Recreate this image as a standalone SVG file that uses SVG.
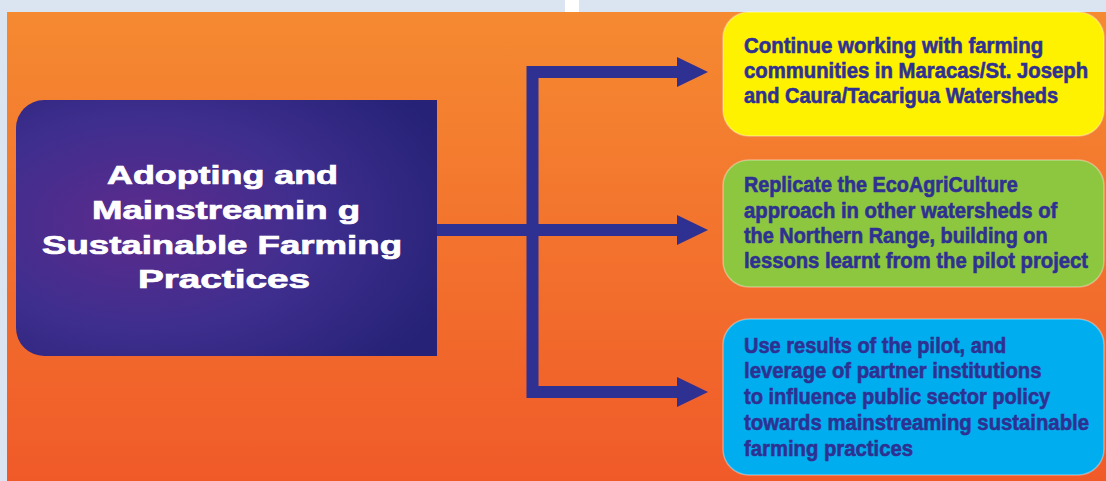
<svg xmlns="http://www.w3.org/2000/svg" width="1106" height="481" viewBox="0 0 1106 481">
<defs>
<linearGradient id="bg" x1="0" y1="0" x2="0" y2="1">
<stop offset="0" stop-color="#f58a31"/>
<stop offset="1" stop-color="#f05a29"/>
</linearGradient>
<radialGradient id="hub" cx="0.3" cy="0.48" r="0.8">
<stop offset="0" stop-color="#5d2b8d"/>
<stop offset="0.5" stop-color="#3f2e8e"/>
<stop offset="1" stop-color="#252277"/>
</radialGradient>
<marker id="ah" markerUnits="userSpaceOnUse" viewBox="0 0 31 30" markerWidth="31" markerHeight="30" refX="0" refY="15" orient="auto">
<path d="M0,0 L31,15 L0,30 Z" fill="#2e3192"/>
</marker>
<style>
.hubtext{font-family:"Liberation Sans",Arial,sans-serif;font-weight:bold;font-size:25px;fill:#ffffff;stroke:#ffffff;stroke-width:0.7}
.boxtext{font-family:"Liberation Sans",Arial,sans-serif;font-weight:bold;font-size:22.5px;fill:#2e3192;stroke:#2e3192;stroke-width:0.6}
.conn{fill:none;stroke:#2e3192;stroke-width:12;stroke-linejoin:miter;stroke-linecap:butt}
.box{stroke:#ffffff;stroke-opacity:0.35;stroke-width:1.5}
</style>
</defs>
<rect x="0" y="0" width="1106" height="481" fill="#dbe5f1"/>
<rect x="565" y="0" width="14" height="12" fill="#ffffff"/>
<rect x="7" y="12" width="1099" height="469" fill="url(#bg)"/>

<g id="connectors">
<path class="conn" d="M532.5,230 V72 H677" marker-end="url(#ah)"/>
<path class="conn" d="M532.5,230 V392 H677" marker-end="url(#ah)"/>
<path class="conn" d="M436,230 H677" marker-end="url(#ah)"/>
</g>

<g id="hub">
<path d="M44,100 H437 V356 H44 A28,28 0 0 1 16,328 V128 A28,28 0 0 1 44,100 Z" fill="url(#hub)"/>
<text class="hubtext" x="107" y="184" textLength="231" lengthAdjust="spacingAndGlyphs">Adopting and</text>
<text class="hubtext" x="92" y="219" textLength="268" lengthAdjust="spacingAndGlyphs">Mainstreamin g</text>
<text class="hubtext" x="42" y="254" textLength="360" lengthAdjust="spacingAndGlyphs">Sustainable Farming</text>
<text class="hubtext" x="138" y="288" textLength="172" lengthAdjust="spacingAndGlyphs">Practices</text>
</g>

<g id="node-continue">
<rect class="box" x="723" y="12" width="381" height="124" rx="26" ry="26" fill="#fff200"/>
<g transform="translate(744,0) scale(0.88,1)">
<text class="boxtext" x="0" y="53" textLength="340" lengthAdjust="spacingAndGlyphs">Continue working with farming</text>
<text class="boxtext" x="0" y="78" textLength="391" lengthAdjust="spacingAndGlyphs">communities in Maracas/St. Joseph</text>
<text class="boxtext" x="0" y="103" textLength="357" lengthAdjust="spacingAndGlyphs">and Caura/Tacarigua Watersheds</text>
</g>
</g>

<g id="node-replicate">
<rect class="box" x="723" y="160" width="381" height="127" rx="26" ry="26" fill="#8dc63f"/>
<g transform="translate(744,0) scale(0.88,1)">
<text class="boxtext" x="0" y="192" textLength="311" lengthAdjust="spacingAndGlyphs">Replicate the EcoAgriCulture</text>
<text class="boxtext" x="0" y="218" textLength="356" lengthAdjust="spacingAndGlyphs">approach in other watersheds of</text>
<text class="boxtext" x="0" y="243" textLength="345" lengthAdjust="spacingAndGlyphs">the Northern Range, building on</text>
<text class="boxtext" x="0" y="268" textLength="391" lengthAdjust="spacingAndGlyphs">lessons learnt from the pilot project</text>
</g>
</g>

<g id="node-policy">
<rect class="box" x="723" y="319" width="381" height="156" rx="26" ry="26" fill="#00aeef"/>
<g transform="translate(744,0) scale(0.88,1)">
<text class="boxtext" x="0" y="353" textLength="298" lengthAdjust="spacingAndGlyphs">Use results of the pilot, and</text>
<text class="boxtext" x="0" y="378" textLength="338" lengthAdjust="spacingAndGlyphs">leverage of partner institutions</text>
<text class="boxtext" x="0" y="404" textLength="348" lengthAdjust="spacingAndGlyphs">to influence public sector policy</text>
<text class="boxtext" x="0" y="430" textLength="392" lengthAdjust="spacingAndGlyphs">towards mainstreaming sustainable</text>
<text class="boxtext" x="0" y="456" textLength="192" lengthAdjust="spacingAndGlyphs">farming practices</text>
</g>
</g>
</svg>
